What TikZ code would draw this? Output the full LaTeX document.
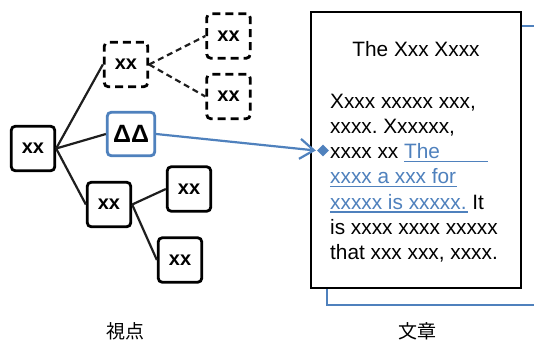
\documentclass[tikz,border=0pt]{standalone}
\usepackage{fontspec}
\setmainfont{Liberation Sans}
\newfontfamily\cjk{Noto Sans CJK JP}
\usetikzlibrary{arrows.meta,shapes.geometric}
\definecolor{linkblue}{RGB}{79,129,189}
\definecolor{linedark}{RGB}{30,30,30}
\newcommand{\doctext}{\fontsize{20.8}{25}\selectfont}
\frenchspacing
\begin{document}
\begin{tikzpicture}[x=1pt,y=-1pt,
  treebox/.style={draw=black,line width=2.8pt,rounded corners=4pt,fill=white,
    minimum width=43.5pt,minimum height=44.5pt,inner sep=0pt,
    font=\fontsize{20}{20}\selectfont\bfseries},
  dashbox/.style={treebox,dash pattern=on 8pt off 5pt},
  linkbox/.style={treebox,draw=linkblue,minimum width=47.5pt,minimum height=43.5pt},
  edge/.style={draw=linedark,line width=2.2pt},
  dashedge/.style={edge,dash pattern=on 6pt off 4pt},
  docline/.style={anchor=base west,inner sep=0pt,font=\doctext},
  ul/.style={draw=linkblue,line width=1.3pt},
  caption/.style={font=\cjk\fontsize{19}{19}\selectfont,inner sep=0pt}]
\useasboundingbox (0,0) rectangle (534,343);
\fill[white] (0,0) rectangle (534,343);
% blue page behind
\begin{scope}
\clip (0,0) rectangle (534,343);
\draw[linkblue,line width=2.2pt] (327,26) rectangle (560,305);
\end{scope}
% document page
\node[draw=black,fill=white,line width=2.2pt,minimum width=210pt,minimum height=276pt,inner sep=0pt] (doc) at (416,150) {};
% tree
\node[treebox] (root) at (33,148.5) {xx};
\node[dashbox] (a) at (126,64.5) {xx};
\node[dashbox] (b) at (228.5,36) {xx};
\node[dashbox] (c) at (228.5,96.5) {xx};
\node[linkbox,font=\fontsize{25}{25}\selectfont\bfseries] (lk) at (131,134) {ΔΔ};
\node[treebox] (d) at (109,204.5) {xx};
\node[treebox] (e) at (189,189) {xx};
\node[treebox] (f) at (180,260) {xx};
\draw[edge] (root.east) -- (a.west);
\draw[edge] (root.east) -- (lk.west);
\draw[edge] (root.east) -- (d.west);
\draw[edge] (d.east) -- (e.west);
\draw[edge] (d.east) -- (f.west);
\draw[dashedge] (a.east) -- (b.west);
\draw[dashedge] (a.east) -- (c.west);
% document text
\node[anchor=base,inner sep=0pt,font=\doctext] (title) at (416,56) {The Xxx Xxxx};
\node[docline] (l1) at (330,108) {Xxxx xxxxx xxx,};
\node[docline] (l2) at (330,133.3) {xxxx. Xxxxxx,};
\node[docline] (l3) at (330,158.6) {xxxx xx \textcolor{linkblue}{The}};
\node[docline,text=linkblue] (l4) at (330,183.9) {xxxx a xxx for};
\node[docline] (l5) at (330,209.2) {\textcolor{linkblue}{xxxxx is xxxxx.} It};
\node[docline] (l6) at (330,234.5) {is xxxx xxxx xxxxx};
\node[docline] (l7) at (330,259.8) {that xxx xxx, xxxx.};
\draw[ul] (404,161.4) -- (488,161.4);
\draw[ul] (330,186.7) -- (457,186.7);
\draw[ul] (330,212) -- (468,212);
% link connector
\node[diamond,fill=linkblue,inner sep=0pt,minimum size=12pt] (dm) at (323,150.5) {};
\draw[linkblue,line width=2.2pt,-{Straight Barb[length=14pt,width=20pt,line width=2.2pt]}] (lk.east) -- ([xshift=-1pt]dm.west);
% captions
\node[caption] (cap1) at (125,331) {視点};
\node[caption] (cap2) at (417,331) {文章};
\end{tikzpicture}
\end{document}
